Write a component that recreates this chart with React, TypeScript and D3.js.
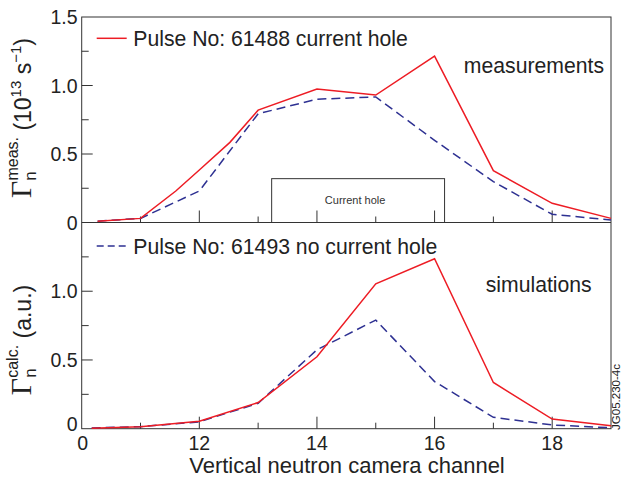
import React from "react";
import * as d3 from "d3";

// ---- data ----
const measRedX = [10.27, 11, 11.6, 12, 12.52, 13, 14, 15, 16, 17, 18, 19];
const measRedY = [0.01, 0.03, 0.23, 0.383, 0.585, 0.82, 0.974, 0.93, 1.215, 0.378, 0.14, 0.03];
const measBlueX = [10.27, 11, 12, 13, 14, 15, 16, 17, 18, 19];
const measBlueY = [0.01, 0.03, 0.23, 0.794, 0.9, 0.916, 0.6, 0.298, 0.06, 0.018];
const calcX = [10.17, 11, 12, 13, 14, 15, 16, 17, 18, 19];
const calcRedY = [0.003, 0.015, 0.055, 0.19, 0.523, 1.054, 1.236, 0.336, 0.07, 0.022];
const calcBlueY = [0.005, 0.015, 0.05, 0.185, 0.574, 0.79, 0.343, 0.083, 0.027, 0.007];

const xTickVals = [11, 12, 13, 14, 15, 16, 17, 18];
const xLabelVals = [10, 12, 14, 16, 18];
const xLabelText = ["0", "12", "14", "16", "18"];
const yMinorVals = [0.25, 0.75, 1.25];
const yMajorVals = [0.5, 1.0];
const yTopLabelVals = [0, 0.5, 1.0, 1.5];
const yTopLabelText = ["0", "0.5", "1.0", "1.5"];
const yBotLabelVals = [0, 0.5, 1.0];
const yBotLabelText = ["0", "0.5", "1.0"];

const legendTop = "Pulse No: 61488 current hole";
const legendBot = "Pulse No: 61493 no current hole";
const holeStart = 13.23;
const holeEnd = 16.17;
const holeTop = 0.32;

const RED = "#ed1c24";
const BLUE = "#2e3192";
const AX = "#333";
const SANS = "Liberation Sans, Arial, Helvetica, sans-serif";
const SERIF = "Liberation Serif, Times New Roman, serif";

export default function App() {
  const x = d3.scaleLinear().domain([10, 19]).range([81.7, 611]);
  const yT = d3.scaleLinear().domain([0, 1.5]).range([222.5, 17]);
  const yB = d3.scaleLinear().domain([0, 1.5]).range([428.7, 222.5]);

  const mk = (ys: d3.ScaleLinear<number, number>) =>
    d3
      .line<[number, number]>()
      .x((d) => x(d[0]))
      .y((d) => ys(d[1]));
  const zip = (a: number[], b: number[]) => a.map((v, i) => [v, b[i]] as [number, number]);

  const lineT = mk(yT);
  const lineB = mk(yB);

  const left = x(10);
  const right = x(19);

  const panelTicks = (ys: d3.ScaleLinear<number, number>, key: string) => (
    <g key={key} stroke={AX} strokeWidth={1}>
      {xTickVals.map((v) => (
        <line key={"x" + v} x1={x(v)} x2={x(v)} y1={ys(0)} y2={ys(0) - (v % 2 === 0 ? 12 : 6)} />
      ))}
      {yMajorVals.map((v) => (
        <line key={"ym" + v} x1={left} x2={left + 11} y1={ys(v)} y2={ys(v)} />
      ))}
      {yMinorVals.map((v) => (
        <line key={"yn" + v} x1={left} x2={left + 7} y1={ys(v)} y2={ys(v)} />
      ))}
    </g>
  );

  return (
    <svg
      width={623}
      height={482}
      style={{ position: "absolute", left: 0, top: 0, background: "#fff" }}
      fontFamily={SANS}
    >
      <rect x={0} y={0} width={623} height={482} fill="#fff" />
      {/* current hole box */}
      <rect
        x={x(holeStart)}
        y={yT(holeTop)}
        width={x(holeEnd) - x(holeStart)}
        height={yT(0) - yT(holeTop)}
        fill="none"
        stroke={AX}
        strokeWidth={1}
      />
      <text x={(x(holeStart) + x(holeEnd)) / 2 - 3} y={204} fontSize={11} textAnchor="middle" fill="#333">
        Current hole
      </text>

      {panelTicks(yT, "t")}
      {panelTicks(yB, "b")}

      {/* frame */}
      <rect x={left} y={yT(1.5)} width={right - left} height={yB(0) - yT(1.5)} fill="none" stroke={AX} strokeWidth={1} />
      <line x1={left} x2={right} y1={yT(0)} y2={yT(0)} stroke={AX} strokeWidth={1} />

      {/* lines */}
      <path d={lineT(zip(measBlueX, measBlueY)) || ""} fill="none" stroke={BLUE} strokeWidth={1.5} strokeDasharray="9,5" />
      <path d={lineT(zip(measRedX, measRedY)) || ""} fill="none" stroke={RED} strokeWidth={1.5} />
      <path d={lineB(zip(calcX, calcBlueY)) || ""} fill="none" stroke={BLUE} strokeWidth={1.5} strokeDasharray="9,5" />
      <path d={lineB(zip(calcX, calcRedY)) || ""} fill="none" stroke={RED} strokeWidth={1.5} />

      {/* y tick labels */}
      {yTopLabelVals.map((v, i) => (
        <text key={"lt" + v} x={77.5} y={yT(v)} dy="0.36em" fontSize={19.5} textAnchor="end" fill="#222">
          {yTopLabelText[i]}
        </text>
      ))}
      {yBotLabelVals.map((v, i) => (
        <text key={"lb" + v} x={77.5} y={yB(v) - (v === 0 ? 5 : 0)} dy="0.36em" fontSize={19.5} textAnchor="end" fill="#222">
          {yBotLabelText[i]}
        </text>
      ))}
      {/* x tick labels */}
      {xLabelVals.map((v, i) => (
        <text key={"xl" + v} x={x(v) + (i === 0 ? 1 : 0)} y={449.5} fontSize={19.5} textAnchor="middle" fill="#222">
          {xLabelText[i]}
        </text>
      ))}
      <text x={347} y={473} fontSize={22} textAnchor="middle" fill="#222">
        Vertical neutron camera channel
      </text>

      {/* legends */}
      <line x1={96.7} x2={126.7} y1={38.3} y2={38.3} stroke={RED} strokeWidth={1.5} />
      <text x={133.3} y={45.7} fontSize={21.2} fill="#222">
        {legendTop}
      </text>
      <line x1={96.7} x2={127.5} y1={246} y2={246} stroke={BLUE} strokeWidth={1.5} strokeDasharray="7,4" />
      <text x={133.3} y={253.5} fontSize={21.2} fill="#222">
        {legendBot}
      </text>

      <text x={604} y={72.7} fontSize={21.2} textAnchor="end" fill="#222">
        measurements
      </text>
      <text x={485.7} y={291.7} fontSize={21.2} fill="#222">
        simulations
      </text>

      {/* y axis labels */}
      <text transform="translate(30.5,118) rotate(-90)" textAnchor="middle" fill="#222" fontSize={23}>
        <tspan fontFamily={SERIF} fontSize={30}>Γ</tspan>
        <tspan fontSize={17} dy={5}>n</tspan>
        <tspan fontSize={16} dy={-18} dx={-9.4}>meas.</tspan>
        <tspan dy={13}> (10</tspan>
        <tspan fontSize={15} dy={-10}>13</tspan>
        <tspan dy={10}> s</tspan>
        <tspan fontSize={15} dy={-10}>−1</tspan>
        <tspan dy={10}>)</tspan>
      </text>
      <text transform="translate(30.5,340) rotate(-90)" textAnchor="middle" fill="#222" fontSize={23}>
        <tspan fontFamily={SERIF} fontSize={30}>Γ</tspan>
        <tspan fontSize={17} dy={5}>n</tspan>
        <tspan fontSize={16} dy={-18} dx={-9.4}>calc.</tspan>
        <tspan dy={13}> (a.u.)</tspan>
      </text>

      <text transform="translate(619.5,397) rotate(-90)" textAnchor="middle" fontSize={11.5} fill="#222">
        JG05.230-4c
      </text>
    </svg>
  );
}
